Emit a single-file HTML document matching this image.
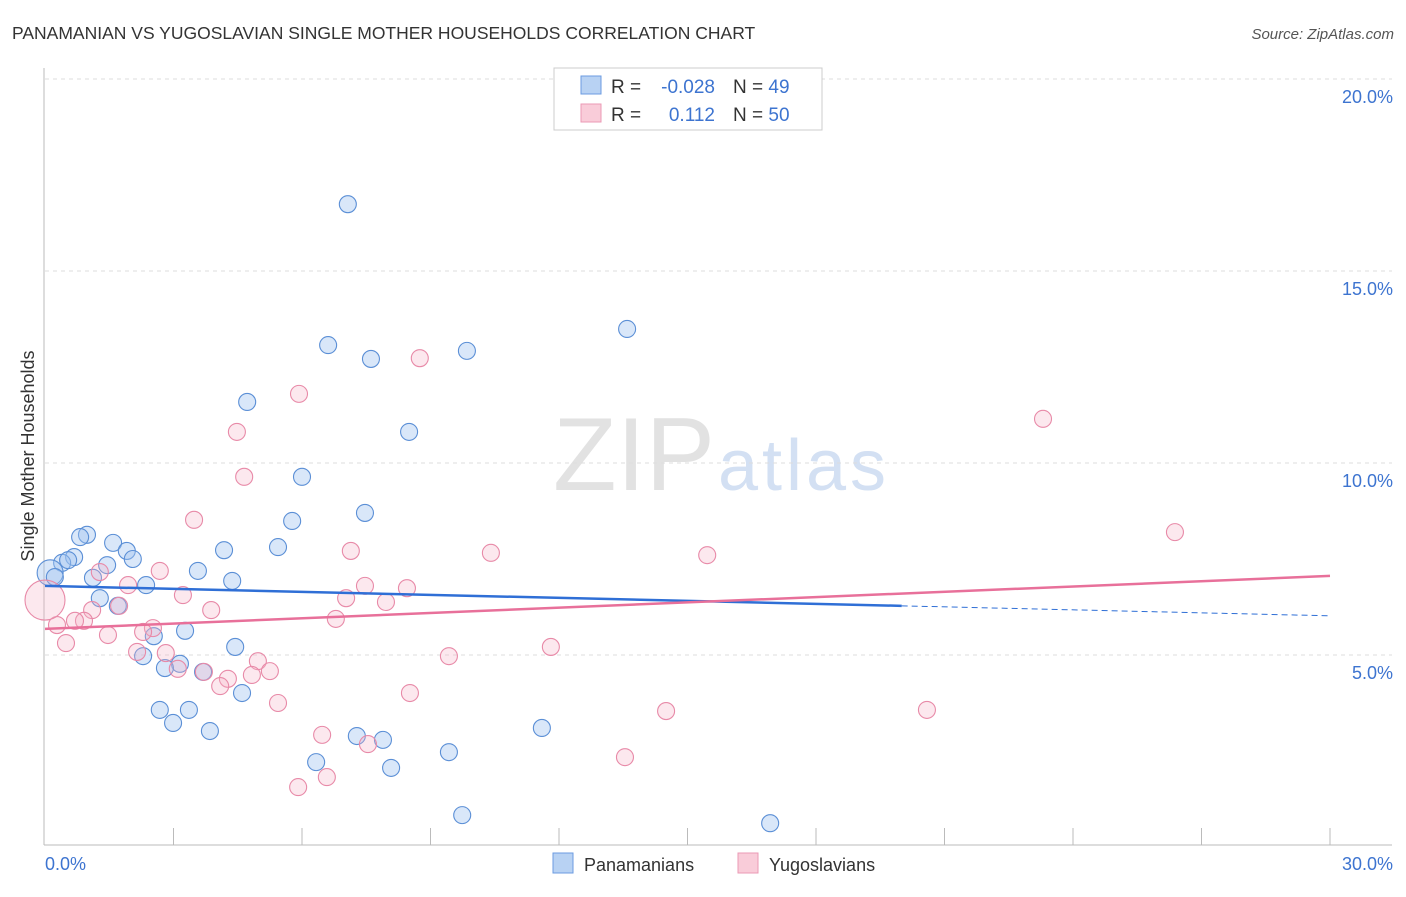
<!DOCTYPE html>
<html><head><meta charset="utf-8"><style>
body{margin:0;background:#fff;font-family:"Liberation Sans",sans-serif;}
svg text{font-family:"Liberation Sans",sans-serif;}
</style></head><body>
<svg id="c" width="1406" height="892">
<text x="12" y="39" font-size="17.5" fill="#333">PANAMANIAN VS YUGOSLAVIAN SINGLE MOTHER HOUSEHOLDS CORRELATION CHART</text>
<text x="1394" y="39" font-size="15" fill="#555" text-anchor="end" font-style="italic">Source: ZipAtlas.com</text>
<text x="553" y="490" font-size="104" fill="#e2e2e2" font-family="Liberation Serif" textLength="162">ZIP</text>
<text x="718" y="490" font-size="72" fill="#d3e0f3" textLength="168">atlas</text>
<g id="grid"></g><g id="pts"></g><g id="lines"></g>
<text transform="translate(34,456) rotate(-90)" font-size="18" fill="#333" text-anchor="middle">Single Mother Households</text>
<rect x="554" y="68" width="268" height="62" fill="#fff" stroke="#ccc"/>
<rect x="581" y="76" width="20" height="18" fill="#b8d2f3" stroke="#6b9be0"/>
<rect x="581" y="104" width="20" height="18" fill="#f9ccd9" stroke="#eb9ab5"/>
<text x="611" y="93" font-size="19" fill="#333">R =</text>
<text x="715" y="93" font-size="19" fill="#3d74d0" text-anchor="end">-0.028</text>
<text x="733" y="93" font-size="19" fill="#333">N = <tspan fill="#3d74d0">49</tspan></text>
<text x="611" y="121" font-size="19" fill="#333">R =</text>
<text x="715" y="121" font-size="19" fill="#3d74d0" text-anchor="end">0.112</text>
<text x="733" y="121" font-size="19" fill="#333">N = <tspan fill="#3d74d0">50</tspan></text>
<rect x="553" y="853" width="20" height="20" fill="#b8d2f3" stroke="#6b9be0"/>
<text x="584" y="871" font-size="18" fill="#333">Panamanians</text>
<rect x="738" y="853" width="20" height="20" fill="#f9ccd9" stroke="#eb9ab5"/>
<text x="769" y="871" font-size="18" fill="#333">Yugoslavians</text>
</svg>
<script>
const yTicks=[5,10,15,20];
const xTicks=[3,6,9,12,15,18,21,24,27,30];
const blueX=[7.07,13.59,6.61,7.61,9.85,4.72,8.50,6.00,7.47,5.77,0.98,0.82,1.59,1.91,4.18,5.44,0.68,2.05,0.40,0.54,1.45,0.12,0.23,1.12,3.57,4.37,2.36,1.28,1.70,2.54,3.27,4.44,2.29,3.15,2.80,3.69,4.60,2.68,3.36,2.99,3.85,11.60,7.28,7.89,9.43,6.33,8.08,9.74,16.93];
const blueY=[16.74,13.49,13.07,12.71,12.92,11.59,10.81,9.64,8.70,8.49,8.13,8.07,7.92,7.71,7.73,7.81,7.55,7.50,7.40,7.47,7.34,7.14,7.03,7.01,7.19,6.93,6.82,6.48,6.28,5.49,5.63,5.21,4.97,4.77,4.66,4.56,4.01,3.57,3.57,3.23,3.02,3.10,2.89,2.79,2.47,2.21,2.06,0.83,0.62];
const pinkX=[8.75,5.93,23.30,4.48,4.65,3.48,26.38,7.14,10.41,15.46,2.68,1.28,7.47,1.94,8.45,3.22,7.03,7.96,3.88,1.10,1.73,6.79,0.91,0.28,0.70,2.52,1.47,2.29,0.49,11.81,2.15,2.82,9.43,4.97,3.10,5.25,3.71,4.27,4.83,4.09,8.52,5.44,14.50,20.59,6.47,7.54,13.54,6.58,5.91,0.0];
const pinkY=[12.73,11.80,11.15,10.81,9.64,8.52,8.20,7.71,7.66,7.60,7.19,7.16,6.80,6.82,6.74,6.56,6.48,6.38,6.17,6.17,6.28,5.94,5.89,5.78,5.89,5.70,5.52,5.60,5.31,5.21,5.08,5.05,4.97,4.84,4.64,4.58,4.56,4.38,4.48,4.19,4.01,3.75,3.54,3.57,2.92,2.68,2.34,1.82,1.56,6.43];
const blueTrend=[6.80,6.28,6.02]; const blueTrendX=[0,20,30];
const pinkTrend=[5.68,7.06]; const pinkTrendX=[0,30];
const X=v=>45+v*1285/30, Y=v=>847-v*38.4;
const NS='http://www.w3.org/2000/svg';
function mk(t,a,p){const e=document.createElementNS(NS,t);for(const k in a)e.setAttribute(k,a[k]);document.getElementById(p).appendChild(e);return e;}
const g=mk('line',{x1:44,y1:68,x2:44,y2:845,stroke:'#bbb'},'grid');


const xa=mk('line',{x1:44,y1:845,x2:1392,y2:845,stroke:'#bbb'},'grid');


yTicks.forEach(v=>{
 const l=mk('line',{x1:45,y1:Y(v),x2:1392,y2:Y(v),stroke:'#ddd','stroke-dasharray':'4,4'},'grid');
 
 
 const t=mk('text',{x:1393,y:Y(v)+24,'font-size':18,fill:'#3d74d0','text-anchor':'end'},'grid');t.textContent=v.toFixed(1)+'%';
 
 
});
xTicks.forEach(v=>{
 const l=mk('line',{x1:X(v),y1:828,x2:X(v),y2:845,stroke:'#bbb'},'grid');
 
 
});
const x0=mk('text',{x:45,y:870,'font-size':18,fill:'#3d74d0'},'grid');x0.textContent='0.0%';


const x1=mk('text',{x:1393,y:870,'font-size':18,fill:'#3d74d0','text-anchor':'end'},'grid');x1.textContent='30.0%';


blueX.forEach((v,i)=>{
 const c=mk('circle',{cx:X(v),cy:Y(blueY[i]),r:i==21?13:8.5,fill:'rgba(160,195,240,0.4)',stroke:'#5b8fd6','stroke-width':1.1},'pts');
 
 
});
pinkX.forEach((v,i)=>{
 const c=mk('circle',{cx:X(v),cy:Y(pinkY[i]),r:i==49?20:8.5,fill:'rgba(245,180,200,0.3)',stroke:'#e88aa8','stroke-width':1.1},'pts');
 
 
});
const b1=mk('line',{x1:X(blueTrendX[0]),y1:Y(blueTrend[0]),x2:X(blueTrendX[1]),y2:Y(blueTrend[1]),stroke:'#2f6fd6','stroke-width':2.5},'lines');


const b2=mk('line',{x1:X(blueTrendX[1]),y1:Y(blueTrend[1]),x2:X(blueTrendX[2]),y2:Y(blueTrend[2]),stroke:'#2f6fd6','stroke-width':1,'stroke-dasharray':'6,4'},'lines');


const p1=mk('line',{x1:X(pinkTrendX[0]),y1:Y(pinkTrend[0]),x2:X(pinkTrendX[1]),y2:Y(pinkTrend[1]),stroke:'#e8709a','stroke-width':2.5},'lines');


</script>
</body></html>
